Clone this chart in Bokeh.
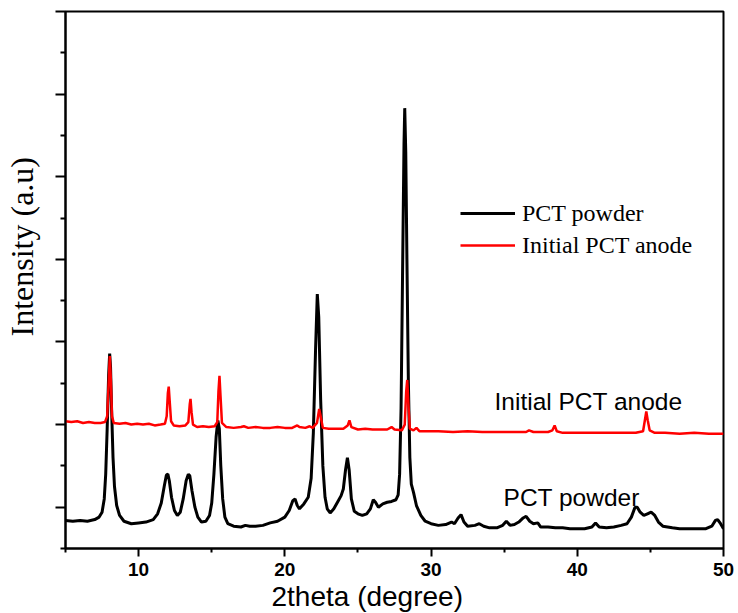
from bokeh.plotting import figure
from bokeh.models import Range1d, FixedTicker, Legend, LegendItem, Label, Title
from bokeh.embed import file_html
from bokeh.resources import INLINE

# ---- data ----
powder_x = [5.0, 5.5, 6.0, 6.5, 7.0, 7.3, 7.5, 7.65, 7.75, 7.85, 7.95, 8.02, 8.08, 8.15, 8.25, 8.35, 8.5, 8.7,
            9.0, 9.5, 10.0, 10.5, 11.0, 11.3, 11.55, 11.75, 11.9, 12.0, 12.1, 12.25, 12.45, 12.65, 12.85,
            13.05, 13.25, 13.4, 13.5, 13.65, 13.85, 14.05, 14.3, 14.6, 14.85, 15.0, 15.15, 15.3, 15.42,
            15.52, 15.62, 15.75, 15.9, 16.1, 16.5, 17.0, 17.3, 17.6, 18.0, 18.5, 19.0, 19.5, 20.0, 20.3,
            20.55, 20.7, 20.85, 21.0, 21.3, 21.6, 21.8, 21.95, 22.1, 22.22, 22.32, 22.45, 22.6, 22.75,
            22.9, 23.1, 23.35, 23.6, 23.85, 24.0, 24.15, 24.28, 24.4, 24.55, 24.75, 25.0, 25.3, 25.6,
            25.85, 26.05, 26.2, 26.4, 26.7, 27.0, 27.3, 27.6, 27.75, 27.85, 27.95, 28.05, 28.15, 28.2,
            28.27, 28.35, 28.45, 28.55, 28.65, 28.8, 29.0, 29.3, 29.6, 30.0, 30.5, 31.0, 31.4, 31.6,
            31.85, 32.05, 32.25, 32.5, 33.0, 33.3, 33.6, 34.0, 34.5, 34.9, 35.15, 35.4, 35.7, 36.0,
            36.3, 36.5, 36.75, 37.0, 37.3, 37.5, 38.0, 38.5, 39.0, 39.5, 40.0, 40.5, 41.0, 41.25, 41.5,
            42.0, 42.5, 43.0, 43.4, 43.7, 43.95, 44.1, 44.3, 44.55, 44.8, 45.05, 45.3, 45.55, 45.85,
            46.5, 47.0, 48.0, 48.8, 49.2, 49.45, 49.6, 49.8, 50.0]
powder_y = [-0.16, -0.17, -0.16, -0.17, -0.15, -0.12, -0.06, 0.10, 0.40, 0.95, 1.60, 1.86, 1.70, 1.20, 0.60, 0.25, 0.02, -0.10,
            -0.17, -0.20, -0.19, -0.18, -0.15, -0.08, 0.05, 0.25, 0.39, 0.40, 0.32, 0.12, -0.04, -0.10, -0.06,
            0.10, 0.32, 0.40, 0.38, 0.20, 0.00, -0.12, -0.18, -0.17, -0.10, 0.05, 0.40, 0.85, 1.05,
            0.95, 0.50, 0.10, -0.12, -0.20, -0.23, -0.24, -0.22, -0.23, -0.23, -0.22, -0.19, -0.17, -0.12, -0.04,
            0.08, 0.10, 0.02, -0.02, 0.04, 0.12, 0.35, 0.90, 1.90, 2.58, 2.30, 1.30, 0.50, 0.12,
            -0.02, -0.07, -0.02, 0.06, 0.14, 0.22, 0.45, 0.60, 0.45, 0.10, -0.05, -0.08, -0.10, -0.08,
            -0.02, 0.09, 0.06, 0.00, 0.04, 0.06, 0.07, 0.09, 0.15, 0.40, 1.20, 2.80, 4.40, 4.83,
            4.30, 3.00, 1.50, 0.60, 0.28, 0.18, 0.02, -0.10, -0.17, -0.20, -0.22, -0.21, -0.18, -0.20,
            -0.13, -0.09, -0.18, -0.23, -0.22, -0.20, -0.23, -0.25, -0.25, -0.22, -0.17, -0.22, -0.21, -0.18,
            -0.13, -0.11, -0.17, -0.20, -0.19, -0.24, -0.24, -0.25, -0.25, -0.26, -0.26, -0.26, -0.24, -0.19, -0.24,
            -0.25, -0.24, -0.22, -0.20, -0.12, 0.00, 0.00, -0.06, -0.10, -0.08, -0.06, -0.10, -0.18, -0.23,
            -0.25, -0.26, -0.26, -0.26, -0.23, -0.16, -0.15, -0.20, -0.26]

anode_x = [5.0, 5.4, 5.8, 6.2, 6.6, 7.0, 7.4, 7.7, 7.85, 7.95, 8.03, 8.1, 8.18, 8.3, 8.7, 9.1, 9.5, 9.9,
           10.3, 10.7, 11.1, 11.5, 11.8, 11.92, 12.0, 12.06, 12.12, 12.22, 12.4, 12.8, 13.2, 13.4, 13.5,
           13.55, 13.62, 13.72, 14.0, 14.4, 14.8, 15.2, 15.38, 15.46, 15.53, 15.6, 15.7, 16.0, 16.5,
           17.0, 17.2, 17.5, 18.0, 18.5, 19.0, 19.5, 20.0, 20.5, 20.85, 21.0, 21.4, 21.7, 21.9, 22.2,
           22.35, 22.45, 22.6, 23.0, 23.5, 24.0, 24.3, 24.42, 24.55, 25.0, 25.5, 26.0, 26.5, 27.0,
           27.3, 27.5, 28.0, 28.2, 28.3, 28.37, 28.45, 28.55, 28.8, 29.0, 29.2, 29.7, 30.5, 31.5,
           32.5, 33.5, 34.5, 35.5, 36.5, 36.7, 37.0, 37.5, 38.0, 38.3, 38.45, 38.6, 39.0, 40.0, 41.0,
           42.0, 43.0, 44.0, 44.5, 44.62, 44.72, 44.82, 44.95, 45.3, 46.0, 47.0, 48.0, 49.0, 50.0]
anode_y = [1.04, 1.03, 1.04, 1.02, 1.03, 1.02, 1.02, 1.03, 1.10, 1.50, 1.83, 1.55, 1.10, 1.02, 1.01, 1.02, 1.00, 1.01,
           1.00, 1.01, 0.99, 1.00, 1.01, 1.10, 1.38, 1.46, 1.30, 1.04, 0.99, 0.98, 0.99, 1.03, 1.25,
           1.31, 1.15, 1.00, 0.97, 0.98, 0.97, 0.98, 1.03, 1.40, 1.59, 1.35, 1.02, 0.97, 0.96,
           0.97, 0.98, 0.96, 0.97, 0.96, 0.96, 0.97, 0.96, 0.96, 0.99, 0.97, 0.96, 0.98, 0.96, 1.02,
           1.19, 1.10, 0.96, 0.95, 0.95, 0.95, 0.99, 1.05, 0.97, 0.94, 0.95, 0.94, 0.94, 0.94,
           0.97, 0.94, 0.93, 1.00, 1.40, 1.54, 1.25, 0.95, 0.93, 0.96, 0.92, 0.92, 0.92, 0.91,
           0.92, 0.91, 0.91, 0.91, 0.91, 0.93, 0.91, 0.91, 0.91, 0.93, 0.99, 0.92, 0.90, 0.90, 0.90,
           0.90, 0.90, 0.90, 0.92, 1.05, 1.16, 1.05, 0.93, 0.90, 0.90, 0.89, 0.90, 0.89, 0.89]

x_major = [10, 20, 30, 40, 50]
x_minor = [5, 15, 25, 35, 45]
y_major = [0, 1, 2, 3, 4, 5, 6]
y_minor = [-0.5, 0.5, 1.5, 2.5, 3.5, 4.5, 5.5]

series_names = ["PCT powder", "Initial PCT anode"]
series_colors = ["#000000", "#ff0000"]
x_title = "2theta (degree)"
y_title = "Intensity (a.u)"

SANS = "Liberation Sans"
SERIF = "Liberation Serif"

p = figure(width=738, height=613, output_backend="svg", toolbar_location=None,
           x_range=Range1d(5, 50), y_range=Range1d(-0.5, 6),
           min_border_left=65, min_border_right=15, min_border_top=11, min_border_bottom=65)
p.background_fill_color = "white"
p.border_fill_color = "white"
p.grid.visible = False
p.outline_line_color = "black"
p.outline_line_width = 2
p.outline_line_alpha = 1

r_black = p.line(powder_x, powder_y, line_color=series_colors[0], line_width=3)
r_red = p.line(anode_x, anode_y, line_color=series_colors[1], line_width=2.5)

# x axis
xa = p.xaxis[0]
xa.ticker = FixedTicker(ticks=x_major, minor_ticks=x_minor)
xa.axis_line_width = 2
xa.major_tick_line_width = 2
xa.minor_tick_line_width = 2
xa.major_tick_out = 8
xa.major_tick_in = 0
xa.minor_tick_out = 4
xa.minor_tick_in = 0
xa.major_label_text_font = SANS
xa.major_label_text_font_style = "bold"
xa.major_label_text_font_size = "19px"
xa.major_label_text_color = "black"
xa.major_label_standoff = 6

# y axis (no tick labels; a blank axis label only reserves room)
ya = p.yaxis[0]
ya.ticker = FixedTicker(ticks=y_major, minor_ticks=y_minor)
ya.axis_line_width = 2
ya.major_tick_line_width = 2
ya.minor_tick_line_width = 2
ya.major_tick_out = 10
ya.major_tick_in = 0
ya.minor_tick_out = 5
ya.minor_tick_in = 0
ya.major_label_text_font_size = "1px"
ya.major_label_text_color = None
ya.major_label_standoff = 0
ya.axis_label = " "
ya.axis_label_text_font_size = "1px"
ya.axis_label_standoff = 12

# axis titles as side titles (left-aligned with an offset to place them)
p.add_layout(Title(text=x_title, align="left", offset=206, standoff=0,
                   text_font=SANS, text_font_size="28px", text_font_style="normal",
                   text_color="black"), "below")
p.add_layout(Title(text=y_title, align="left", offset=212, standoff=0,
                   text_font=SERIF, text_font_size="32px", text_font_style="normal",
                   text_color="black"), "left")

legend = Legend(items=[LegendItem(label=series_names[0], renderers=[r_black]),
                       LegendItem(label=series_names[1], renderers=[r_red])],
                location=(395, 287), orientation="vertical",
                padding=0, margin=0, spacing=0,
                glyph_width=55, glyph_height=32, label_height=32,
                label_standoff=7,
                label_text_font=SERIF, label_text_font_size="24px",
                label_text_color="black",
                border_line_color=None, background_fill_alpha=0)
p.add_layout(legend)

p.add_layout(Label(x=34.34, y=1.28, text=series_names[1], text_font=SANS,
                   text_font_size="24.5px", text_color="black", text_baseline="alphabetic"))
p.add_layout(Label(x=34.96, y=0.12, text=series_names[0], text_font=SANS,
                   text_font_size="24.5px", text_color="black", text_baseline="alphabetic"))

open("out.html", "w").write(file_html(p, INLINE))
